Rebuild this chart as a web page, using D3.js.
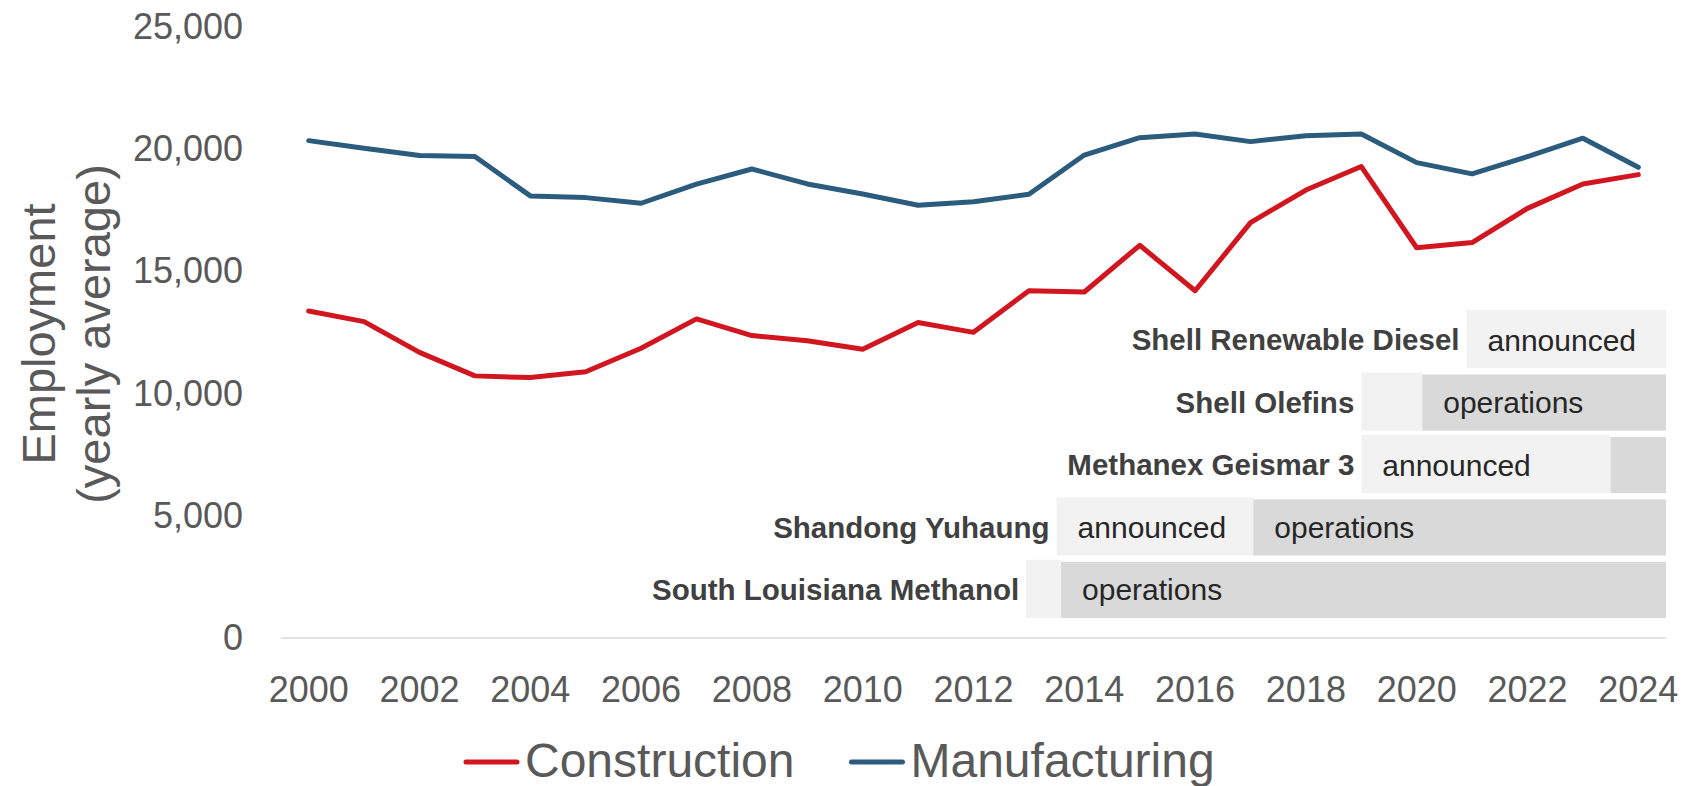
<!DOCTYPE html>
<meta charset="utf-8">
<style>

    body {
        margin: 0;
        background: #fff;
    }

    text {
        font-family: "Liberation Sans", Arial, sans-serif;
    }

    .series {
        fill: none;
        stroke-width: 5px;
        stroke-linejoin: round;
        stroke-linecap: round;
    }

</style>
<svg width="1693" height="786">
    <rect fill="#fff" width="100%" height="100%"></rect>
</svg>
<script src="https://d3js.org/d3.v7.min.js"></script>
<script>

    //yearly averages
    var years = d3.range(2000, 2025);

    var construction = [13370, 12940, 11680, 10720, 10650, 10890, 11850, 13050, 12370, 12160,
        11810, 12900, 12500, 14200, 14150, 16060, 14200, 16990, 18320, 19280,
        15960, 16170, 17570, 18570, 18950];

    var manufacturing = [20340, 20030, 19730, 19690, 18080, 18010, 17780, 18560, 19180, 18570,
        18160, 17700, 17840, 18150, 19750, 20460, 20610, 20300, 20540, 20610,
        19440, 18980, 19690, 20440, 19250];

    var yTicks = [0, 5000, 10000, 15000, 20000, 25000];
    var xTicks = d3.range(2000, 2025, 2);

    //project timeline rows (fractional years)
    var projects = ["Shell Renewable Diesel", "Shell Olefins", "Methanex Geismar 3",
        "Shandong Yuhaung", "South Louisiana Methanol"];
    var announced = [2021.4, 2019.5, 2019.5, 2014.0, 2013.45];
    var operations = [null, 2020.6, 2024.0, 2017.55, 2014.08];
    var timelineEnd = 2025;

    var seriesNames = ["Construction", "Manufacturing"];
    var seriesColors = ["#d1161f", "#2b5b7d"];

    var svg = d3.select("svg");

    var x = d3.scaleBand().domain(years).range([281, 1666]);
    var xt = d3.scaleLinear().domain([2000, 2025]).range([281, 1666]);   //same span, for the bars
    var y = d3.scaleLinear().domain([0, 25000]).range([638, 26.7]);
    var row = d3.scaleBand().domain(projects).range([312, 618]).paddingInner(0.1);

    function px(yr)
    {
        return x(yr) + x.bandwidth() / 2;
    }

    //baseline
    svg.append("line")
            .attr("x1", 281).attr("x2", 1666)
            .attr("y1", y(0)).attr("y2", y(0))
            .attr("stroke", "#d9d9d9")
            .attr("stroke-width", 1.5);

    //y axis
    var yAxis = svg.append("g")
            .attr("transform", "translate(243,0)")
            .call(d3.axisLeft(y).tickValues(yTicks).tickFormat(d3.format(",")).tickSize(0).tickPadding(0));
    yAxis.select(".domain").remove();
    yAxis.selectAll("text")
            .attr("font-size", 36)
            .attr("font-family", "Liberation Sans, Arial, sans-serif")
            .attr("fill", "#595959");

    //x axis
    var xAxis = svg.append("g")
            .attr("transform", "translate(0," + y(0) + ")")
            .call(d3.axisBottom(x).tickValues(xTicks).tickSize(0).tickPadding(38));
    xAxis.select(".domain").remove();
    xAxis.selectAll("text")
            .attr("font-size", 36)
            .attr("font-family", "Liberation Sans, Arial, sans-serif")
            .attr("fill", "#595959");

    //axis title, two lines
    [["Employment", 55], ["(yearly average)", 110]].forEach(function (t)
    {
        svg.append("text")
                .attr("transform", "translate(" + t[1] + ",334) rotate(-90)")
                .attr("text-anchor", "middle")
                .attr("font-size", 47)
                .attr("fill", "#595959")
                .text(t[0]);
    });

    //timeline bars
    var bars = svg.append("g");
    projects.forEach(function (name, i)
    {
        var y0 = row(name), h = row.bandwidth();
        var a = announced[i], o = operations[i];
        var lightEnd = o === null ? timelineEnd : o;

        bars.append("rect")
                .attr("x", xt(a)).attr("y", y0 - 2)
                .attr("width", xt(lightEnd) - xt(a)).attr("height", h + 2)
                .attr("fill", "#f2f2f2");

        if (o !== null)
        {
            bars.append("rect")
                    .attr("x", xt(o)).attr("y", y0)
                    .attr("width", xt(timelineEnd) - xt(o)).attr("height", h)
                    .attr("fill", "#d9d9d9");
        }

        //segment words only where there is room
        if (xt(lightEnd) - xt(a) > 120)
        {
            bars.append("text")
                    .attr("x", xt(a) + 21).attr("y", y0 + h / 2)
                    .attr("dy", "0.35em")
                    .attr("font-size", 30)
                    .attr("fill", "#262626")
                    .text("announced");
        }
        if (o !== null && xt(timelineEnd) - xt(o) > 120)
        {
            bars.append("text")
                    .attr("x", xt(o) + 21).attr("y", y0 + h / 2)
                    .attr("dy", "0.35em")
                    .attr("font-size", 30)
                    .attr("fill", "#262626")
                    .text("operations");
        }

        bars.append("text")
                .attr("x", xt(a) - 7).attr("y", y0 + h / 2)
                .attr("dy", "0.35em")
                .attr("text-anchor", "end")
                .attr("font-size", 29.5)
                .attr("font-weight", "bold")
                .attr("fill", "#404040")
                .text(name);
    });

    //lines
    var line = d3.line()
            .x(function (d, i) { return px(years[i]); })
            .y(function (d) { return y(d); });

    [construction, manufacturing].forEach(function (vals, k)
    {
        svg.append("path")
                .datum(vals)
                .attr("class", "series")
                .attr("stroke", seriesColors[k])
                .attr("d", line);
    });

    //legend
    var lx = 464;
    seriesNames.forEach(function (name, k)
    {
        svg.append("line")
                .attr("x1", lx + 2).attr("x2", lx + 53)
                .attr("y1", 762).attr("y2", 762)
                .attr("stroke", seriesColors[k])
                .attr("stroke-width", 5)
                .attr("stroke-linecap", "round");
        var t = svg.append("text")
                .attr("x", lx + 61).attr("y", 760)
                .attr("dy", "0.35em")
                .attr("font-size", 48)
                .attr("fill", "#595959")
                .text(name);
        lx += 61 + t.node().getComputedTextLength() + 55;
    });

</script>
